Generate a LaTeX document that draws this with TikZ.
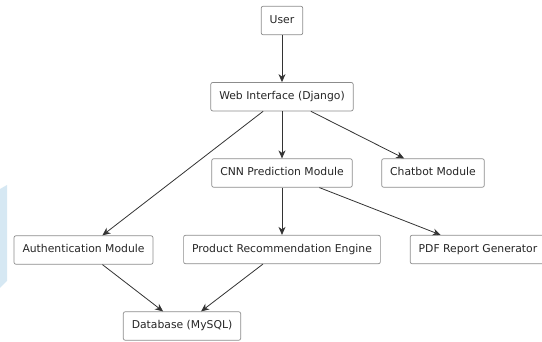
\documentclass[tikz,border=0pt]{standalone}
\usepackage{fontspec}
\setmainfont{DejaVu Sans}
\usetikzlibrary{arrows.meta}
\definecolor{boxline}{HTML}{8C8C8C}
\definecolor{edgeline}{HTML}{333333}
\definecolor{textcol}{HTML}{262626}
\definecolor{sidebar}{HTML}{D6E8F3}
\begin{document}
\begin{tikzpicture}[x=1pt,y=-1pt,
  block/.style={draw=boxline, line width=0.7pt, rounded corners=2pt, fill=white,
    text=textcol, font=\fontsize{10.8}{12}\selectfont,
    inner xsep=8.5pt, inner ysep=0pt, minimum height=28.5pt,
    text height=8pt, text depth=2.3pt},
  flow/.style={draw=edgeline, line width=0.8pt,
    -{Stealth[length=8pt,width=7pt,inset=2.5pt]}}]
\useasboundingbox (0,0) rectangle (542,342);

% pale side band on the left edge
\fill[sidebar] (0,189) -- (7,185) -- (7,281) -- (0,288) -- cycle;

% components
\node[block] (user) at (282,20.5)   {User};
\node[block] (web)  at (282,96.7)   {Web Interface (Django)};
\node[block] (cnn)  at (282,173)    {CNN Prediction Module};
\node[block] (chat) at (433,173)    {Chatbot Module};
\node[block] (auth) at (83.5,250)   {Authentication Module};
\node[block] (prod) at (282,249.5)  {Product Recommendation Engine};
\node[block] (pdf)  at (478,249.5)  {PDF Report Generator};
\node[block] (db)   at (182,326)    {Database (MySQL)};

% data flow
\draw[flow] (user) -- (web);
\draw[flow] (web) -- (cnn);
\draw[flow] (web) -- (auth);
\draw[flow] (web) -- (chat);
\draw[flow] (cnn) -- (prod);
\draw[flow] (cnn) -- (pdf);
\draw[flow] (auth) -- (db);
\draw[flow] (prod) -- (db);
\end{tikzpicture}
\end{document}
